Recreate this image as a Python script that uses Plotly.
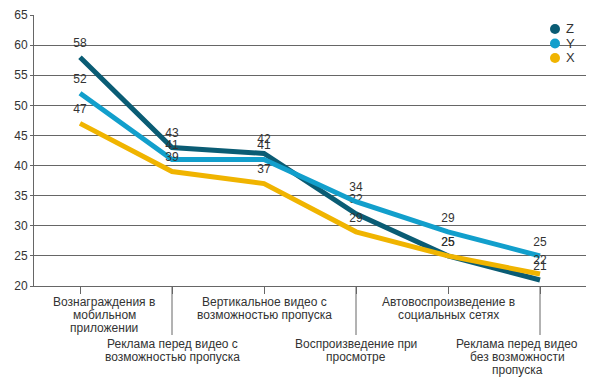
import plotly.graph_objects as go

categories = [
    "Вознаграждения в<br>мобильном<br>приложении",
    "Реклама перед видео с<br>возможностью пропуска",
    "Вертикальное видео с<br>возможностью пропуска",
    "Воспроизведение при<br>просмотре",
    "Автовоспроизведение в<br>социальных сетях",
    "Реклама перед видео<br>без возможности<br>пропуска",
]
series_names = ["Z", "Y", "X"]
z_values = [58, 43, 42, 32, 25, 21]
y_values = [52, 41, 41, 34, 29, 25]
x_values = [47, 39, 37, 29, 25, 22]
colors = ["#0a5c74", "#129fcc", "#f0b400"]
y_ticks = [20, 25, 30, 35, 40, 45, 50, 55, 60, 65]

FONT = "Liberation Sans, Arial, sans-serif"
TXT = "#333333"
AX = "#666666"
idx = list(range(len(categories)))

fig = go.Figure()
for name, vals, col in zip(series_names, [z_values, y_values, x_values], colors):
    fig.add_trace(go.Scatter(
        x=idx, y=vals, mode="lines+markers+text", name=name,
        line=dict(color=col, width=5),
        marker=dict(size=10, opacity=0, color=col),
        text=[str(v) for v in vals], textposition="top center",
        textfont=dict(family=FONT, size=12, color=TXT),
        showlegend=False, hoverinfo="skip",
    ))

shapes = []
annotations = []
LINE_H = 13
n = len(categories)
for i, cat in enumerate(categories):
    row2 = (i % 2 == 1)
    if row2:
        shapes.append(dict(type="line", xref="x", yref="paper", x0=i, x1=i,
                           y0=0, y1=-49 / 271, line=dict(color=AX, width=1)))
    top_px = 58 if row2 else 16   # centre of first line, below axis line
    xshift = 0
    if i == 0:
        xshift = 24
    elif i == n - 1:
        xshift = -23
    for k, line in enumerate(cat.split("<br>")):
        annotations.append(dict(
            x=i, xref="x", yref="paper", y=0,
            yshift=-(top_px + k * LINE_H), xshift=xshift,
            text=line, showarrow=False, xanchor="center", yanchor="middle",
            font=dict(family=FONT, size=12, color=TXT),
        ))

# legend: colour dot + series name, stacked top-right
leg_x = (555 - 34) / 552
leg_y0 = 1 - (29 - 15) / 271
leg_step = 14.5 / 271
for k, (name, col) in enumerate(zip(series_names, colors)):
    yc = leg_y0 - k * leg_step
    shapes.append(dict(type="circle", xref="paper", yref="paper",
                       xsizemode="pixel", ysizemode="pixel",
                       xanchor=leg_x, yanchor=yc,
                       x0=-5, x1=5, y0=-5, y1=5,
                       fillcolor=col, line=dict(width=0)))
    annotations.append(dict(x=leg_x, y=yc, xref="paper", yref="paper",
                            xshift=9, text=name, showarrow=False,
                            xanchor="left", yanchor="middle",
                            font=dict(family=FONT, size=13, color=TXT)))

fig.update_layout(
    width=594, height=384,
    margin=dict(l=34, r=8, t=15, b=98),
    paper_bgcolor="white", plot_bgcolor="white",
    showlegend=False,
    font=dict(family=FONT, size=12, color=TXT),
    xaxis=dict(range=[-0.5, 5.5], tickmode="array", tickvals=idx,
               showticklabels=False, ticks="outside", ticklen=7,
               tickcolor=AX, showline=True, linecolor=AX,
               showgrid=False, zeroline=False, fixedrange=True),
    yaxis=dict(range=[20, 65], tickvals=y_ticks, showgrid=True,
               gridcolor=AX, gridwidth=1, zeroline=False,
               showline=True, linecolor=AX,
               tickfont=dict(family=FONT, size=12, color=TXT),
               ticks="outside", ticklen=3, tickcolor=AX, fixedrange=True),
    shapes=shapes, annotations=annotations,
)

fig.write_html("out.html", config={"displayModeBar": False},
               post_script="document.body.style.margin='0';")
